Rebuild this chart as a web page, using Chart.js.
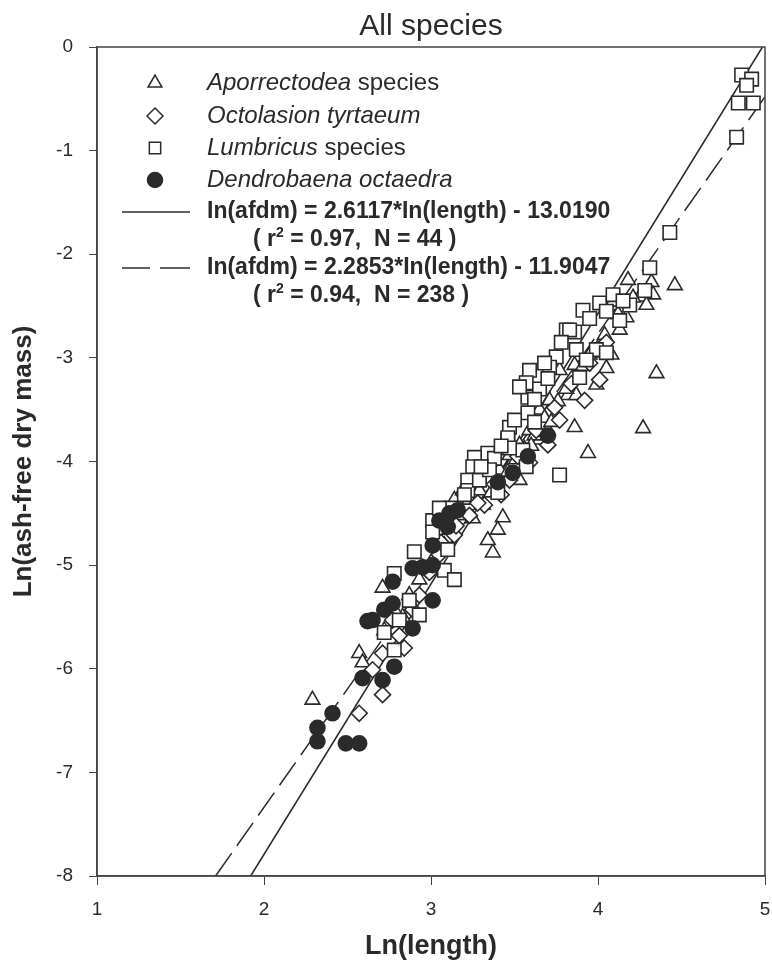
<!DOCTYPE html>
<html>
<head>
<meta charset="utf-8">
<script src="https://cdn.jsdelivr.net/npm/chart.js@4/dist/chart.umd.min.js"></script>
<style>
  body { margin: 0; background: #fff; }
  #wrap { width: 772px; height: 967px; }
</style>
</head>
<body>
<div id="wrap"><canvas id="chart"></canvas></div>
<script>
// axis ranges
const xRange = [1, 5];
const yRange = [-8, 0];

// Aporrectodea species (triangles) [ln(length), ln(afdm)]
const aporrectodea = [
  [2.29, -6.30], [2.57, -5.85], [2.59, -5.94], [2.71, -5.22], [2.83, -5.50],
  [3.37, -4.88], [3.53, -4.18], [3.43, -4.54], [3.40, -4.66], [3.34, -4.76],
  [3.65, -3.79], [3.70, -3.70], [3.86, -3.67], [3.94, -3.92], [3.99, -3.26],
  [4.05, -3.10], [4.27, -3.68], [4.35, -3.15], [4.46, -2.30], [4.18, -2.25],
  [4.32, -2.27], [4.33, -2.39], [4.25, -2.41], [4.29, -2.49], [4.17, -2.61],
  [4.09, -2.46], [4.13, -2.73], [4.01, -2.88], [3.95, -2.97], [3.86, -3.07],
  [3.77, -3.12], [3.82, -3.36], [3.71, -3.41], [3.65, -3.50], [3.59, -3.70],
  [3.53, -3.84], [3.47, -3.94], [3.41, -4.08], [3.29, -4.28], [3.23, -4.37],
  [3.17, -4.52], [3.11, -4.66], [3.08, -4.81], [3.01, -4.95], [2.93, -5.14],
  [2.87, -5.29], [2.78, -5.43], [2.72, -5.63], [3.14, -4.37], [3.19, -4.28],
  [4.08, -2.97], [3.87, -3.36], [3.25, -4.55], [3.31, -4.42], [3.36, -4.30],
  [3.46, -4.10], [3.51, -3.98], [3.56, -3.88], [3.62, -3.75], [3.68, -3.58],
  [3.76, -3.42], [3.81, -3.30], [3.91, -3.08], [3.98, -2.95], [4.04, -2.78],
  [4.12, -2.58], [4.21, -2.42], [3.72, -3.62], [3.88, -3.20], [3.60, -3.85]
];

// Octolasion tyrtaeum (diamonds)
const octolasion = [
  [2.57, -6.43], [2.71, -6.25], [2.65, -6.01], [2.71, -5.85], [2.81, -5.68],
  [2.77, -5.53], [2.89, -5.43], [2.93, -5.29], [2.99, -5.07], [3.05, -4.90],
  [3.14, -4.71], [3.23, -4.52], [3.32, -4.42], [3.47, -4.18], [3.59, -4.01],
  [3.70, -3.84], [3.77, -3.60], [3.92, -3.41], [4.01, -3.21], [2.84, -5.80],
  [3.28, -4.40], [3.38, -4.22], [3.52, -3.95], [3.63, -3.70], [3.74, -3.48],
  [3.84, -3.25], [3.95, -3.05], [4.05, -2.85], [3.42, -4.32], [3.15, -4.62],
  [3.06, -4.78], [2.95, -5.02]
];

// Lumbricus species (squares)
const lumbricus = [
  [4.86, -0.27], [4.92, -0.31], [4.89, -0.37], [4.84, -0.54], [4.93, -0.54],
  [4.83, -0.87], [4.43, -1.79], [4.31, -2.13], [3.91, -2.54], [4.01, -2.47],
  [4.09, -2.39], [3.81, -2.73], [3.86, -2.75], [3.75, -2.99], [3.87, -2.92],
  [3.99, -2.92], [3.59, -3.12], [3.71, -3.09], [3.89, -3.19], [3.57, -3.24],
  [3.58, -3.38], [3.58, -3.53], [3.46, -3.79], [3.55, -3.89], [3.57, -4.05],
  [3.83, -2.73], [4.05, -2.95], [3.93, -3.02], [4.13, -2.64], [4.19, -2.49],
  [4.28, -2.35], [3.53, -3.28], [3.47, -3.67], [3.46, -3.77], [3.47, -3.87],
  [3.34, -3.92], [3.26, -3.96], [3.25, -4.05], [3.38, -3.97], [3.22, -4.18],
  [3.22, -4.28], [3.29, -4.18], [3.35, -4.08], [3.77, -4.13], [3.01, -4.57],
  [3.01, -4.68], [2.90, -4.87], [2.78, -5.08], [3.08, -5.05], [3.14, -5.14],
  [2.87, -5.34], [2.81, -5.53], [2.93, -5.48], [2.78, -5.82], [3.65, -3.30],
  [3.70, -3.20], [3.62, -3.62], [3.40, -4.30], [3.10, -4.85], [2.72, -5.65],
  [3.30, -4.05], [3.42, -3.85], [3.50, -3.60], [3.62, -3.40], [3.68, -3.05],
  [3.78, -2.85], [3.95, -2.62], [4.05, -2.55], [4.15, -2.45], [3.20, -4.32],
  [3.12, -4.45], [3.05, -4.45]
];

// Dendrobaena octaedra (filled circles)
const dendrobaena = [
  [2.32, -6.57], [2.32, -6.70], [2.41, -6.43], [2.49, -6.72], [2.57, -6.72],
  [2.59, -6.09], [2.71, -6.11], [2.78, -5.98], [2.65, -5.53], [2.72, -5.43],
  [2.77, -5.37], [2.77, -5.16], [2.89, -5.03], [3.01, -5.00], [3.01, -5.34],
  [2.89, -5.61], [3.01, -4.81], [3.11, -4.50], [3.16, -4.47], [3.10, -4.63],
  [3.05, -4.57], [2.95, -5.02], [3.49, -4.11], [2.62, -5.54], [3.40, -4.20],
  [3.58, -3.95], [3.70, -3.75]
];

// regression lines, end points read where they leave the frame
const fitSolid = [[1.92, -8], [4.985, 0]];
const fitDashed = [[1.71, -8], [5, -0.48]];

const toPts = arr => arr.map(p => ({ x: p[0], y: p[1] }));

const FONT = '"Liberation Sans", Arial, sans-serif';
const INK = '#2a2a2a';

function drawRuns(ctx, runs, x, y) {
  let cx = x;
  runs.forEach(r => {
    ctx.font = r.font;
    ctx.fillText(r.text, cx, y + (r.dy || 0));
    cx += ctx.measureText(r.text).width;
  });
}

const figureText = {
  id: 'figureText',
  afterDraw(chart) {
    const ctx = chart.ctx;
    const a = chart.chartArea;
    ctx.save();
    ctx.strokeStyle = '#444';
    ctx.lineWidth = 1.5;
    ctx.strokeRect(a.left, a.top, a.right - a.left, a.bottom - a.top);

    ctx.fillStyle = INK;
    ctx.textBaseline = 'middle';
    ctx.textAlign = 'center';
    ctx.font = '30px ' + FONT;
    ctx.fillText('All species', (a.left + a.right) / 2, 27);

    ctx.textAlign = 'left';
    const sx = 155, tx = 207;
    const syms = [
      { style: 'triangle', fill: '#fff', y: 83 },
      { style: 'rectRot', fill: '#fff', y: 116 },
      { style: 'rect', fill: '#fff', y: 148 },
      { style: 'circle', fill: INK, y: 180 }
    ];
    syms.forEach(s => {
      ctx.fillStyle = s.fill;
      ctx.strokeStyle = INK;
      ctx.lineWidth = 1.5;
      Chart.helpers.drawPoint(ctx, { pointStyle: s.style, radius: s.style === 'circle' ? 7.5 : 8, borderWidth: 1.5, rotation: 0 }, sx, s.y);
    });
    ctx.fillStyle = INK;
    const it = 'italic 24px ' + FONT, nm = '24px ' + FONT;
    drawRuns(ctx, [{ text: 'Aporrectodea', font: it }, { text: ' species', font: nm }], tx, 83);
    drawRuns(ctx, [{ text: 'Octolasion tyrtaeum', font: it }], tx, 116);
    drawRuns(ctx, [{ text: 'Lumbricus', font: it }, { text: ' species', font: nm }], tx, 148);
    drawRuns(ctx, [{ text: 'Dendrobaena octaedra', font: it }], tx, 180);

    ctx.strokeStyle = INK;
    ctx.lineWidth = 1.5;
    ctx.beginPath();
    ctx.moveTo(122, 212); ctx.lineTo(190, 212);
    ctx.stroke();
    ctx.beginPath();
    ctx.moveTo(122, 268); ctx.lineTo(150, 268);
    ctx.moveTo(160, 268); ctx.lineTo(190, 268);
    ctx.stroke();

    const bd = 'bold 23px ' + FONT, sup = 'bold 14px ' + FONT;
    drawRuns(ctx, [{ text: 'In(afdm) = 2.6117*In(length) - 13.0190', font: bd }], tx, 212);
    drawRuns(ctx, [{ text: '( r', font: bd }, { text: '2', font: sup, dy: -7 }, { text: ' = 0.97,  N = 44 )', font: bd }], 253, 240);
    drawRuns(ctx, [{ text: 'In(afdm) = 2.2853*In(length) - 11.9047', font: bd }], tx, 268);
    drawRuns(ctx, [{ text: '( r', font: bd }, { text: '2', font: sup, dy: -7 }, { text: ' = 0.94,  N = 238 )', font: bd }], 253, 296);
    ctx.restore();
  }
};

const markerBase = {
  borderColor: INK,
  borderWidth: 1.6,
  pointHoverRadius: 8,
  showLine: false
};

new Chart(document.getElementById('chart'), {
  type: 'scatter',
  data: {
    datasets: [
      { ...markerBase, label: 'Dendrobaena octaedra', data: toPts(dendrobaena), pointStyle: 'circle', pointRadius: 7.5, backgroundColor: INK, order: 2 },
      { ...markerBase, label: 'Lumbricus species', data: toPts(lumbricus), pointStyle: 'rect', pointRadius: 9.5, backgroundColor: '#fff', order: 3 },
      { ...markerBase, label: 'Octolasion tyrtaeum', data: toPts(octolasion), pointStyle: 'rectRot', pointRadius: 8, backgroundColor: '#fff', order: 4 },
      { ...markerBase, label: 'Aporrectodea species', data: toPts(aporrectodea), pointStyle: 'triangle', pointRadius: 8.5, backgroundColor: '#fff', order: 5 },
      { type: 'line', label: 'fit 1', data: toPts(fitSolid), showLine: true, pointRadius: 0, borderColor: INK, borderWidth: 1.5, order: 10 },
      { type: 'line', label: 'fit 2', data: toPts(fitDashed), showLine: true, pointRadius: 0, borderColor: INK, borderWidth: 1.5, borderDash: [28, 9], order: 11 }
    ]
  },
  options: {
    responsive: true,
    maintainAspectRatio: false,
    animation: false,
    clip: false,
    layout: { autoPadding: false, padding: { top: 47, right: 7, left: 0, bottom: 0 } },
    plugins: { legend: { display: false }, tooltip: { enabled: false } },
    scales: {
      x: {
        type: 'linear', min: xRange[0], max: xRange[1],
        afterFit: s => { s.height = 91; s.paddingLeft = 0; s.paddingRight = 0; },
        ticks: { stepSize: 1, color: INK, padding: 13, font: { family: FONT, size: 19 } },
        grid: { drawOnChartArea: false, drawTicks: true, tickLength: 9, color: '#444' },
        border: { color: '#444', width: 1.5 },
        title: { display: true, text: 'Ln(length)', color: INK, padding: { top: 4, bottom: 4 }, font: { family: FONT, size: 27, weight: 'bold' } }
      },
      y: {
        type: 'linear', min: yRange[0], max: yRange[1],
        afterFit: s => { s.width = 97; s.paddingTop = 0; s.paddingBottom = 0; },
        ticks: { stepSize: 1, color: INK, padding: 16, font: { family: FONT, size: 19 } },
        grid: { drawOnChartArea: false, drawTicks: true, tickLength: 8, color: '#444' },
        border: { color: '#444', width: 1.5 },
        title: { display: true, text: 'Ln(ash-free dry mass)', color: INK, padding: { top: 8, bottom: 4 }, font: { family: FONT, size: 26, weight: 'bold' } }
      }
    }
  },
  plugins: [figureText]
});
</script>
</body>
</html>
